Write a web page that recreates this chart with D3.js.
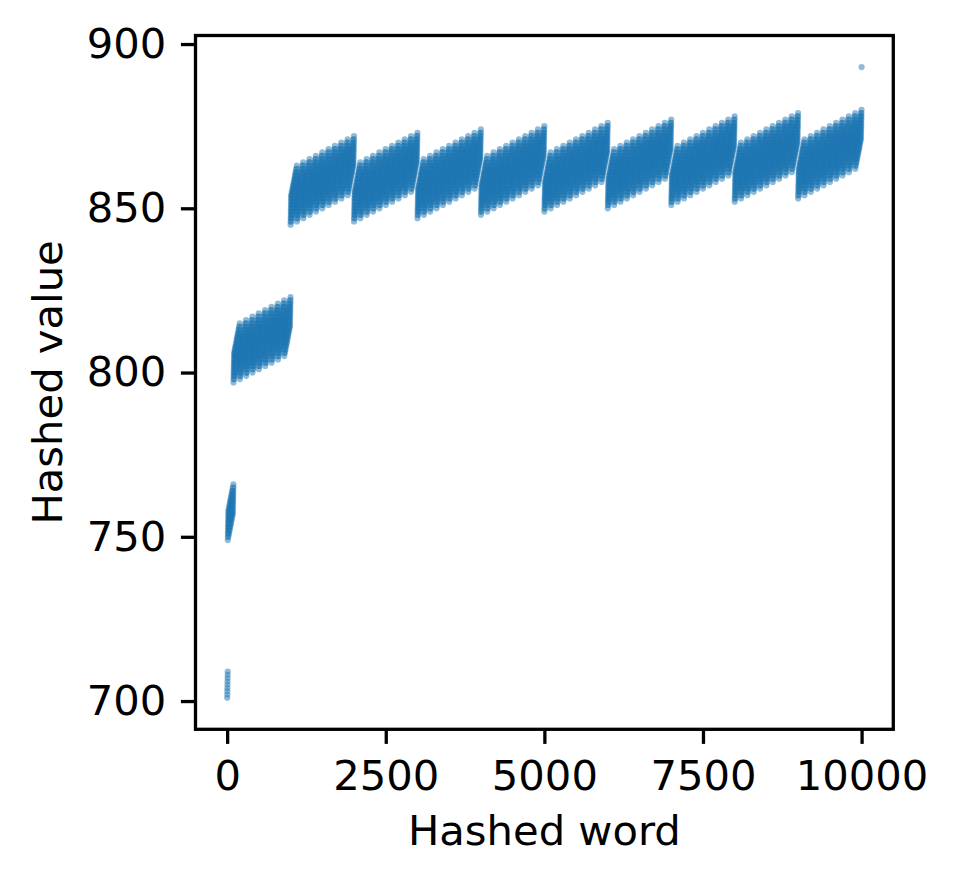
<!DOCTYPE html>
<html>
<head>
<meta charset="utf-8">
<script src="https://d3js.org/d3.v7.min.js"></script>
<style>
  body { margin: 0; background: #fff; }
  svg { display: block; font-family: "DejaVu Sans", sans-serif; }
</style>
</head>
<body>
<script>
// words 1..10000 are hashed as base + sum of their character codes
var firstWord = 1;
var lastWord = 10000;
var hashBase = 652;
var xTicks = [0, 2500, 5000, 7500, 10000];
var yTicks = [700, 750, 800, 850, 900];

var words = d3.range(firstWord, lastWord + 1).map(String);
var hashedValues = words.map(function (w) {
    return hashBase + d3.sum(w.split(""), function (c) { return c.charCodeAt(0); });
});
var points = words.map(function (w, i) { return {x: +w, y: hashedValues[i]}; });

var W = 957, H = 885;
// plot box (note: "top" is reserved on window, so use a prefix)
var boxL = 195.5, boxR = 893.3, boxT = 35.5, boxB = 729.3;
var fs = 41.7;

// matplotlib-style 5% padding
var xExt = d3.extent(points, function (d) { return d.x; });
var yExt = d3.extent(points, function (d) { return d.y; });
var xPad = (xExt[1] - xExt[0]) * 0.05, yPad = (yExt[1] - yExt[0]) * 0.05;

var x = d3.scaleLinear().domain([xExt[0] - xPad, xExt[1] + xPad]).range([boxL, boxR]);
var y = d3.scaleLinear().domain([yExt[0] - yPad, yExt[1] + yPad]).range([boxB, boxT]);

var svg = d3.select("body").append("svg")
    .attr("width", W)
    .attr("height", H);

svg.append("rect").attr("width", W).attr("height", H).attr("fill", "#fff");

// Scatter points
svg.append("g")
    .selectAll("circle")
    .data(points)
    .enter().append("circle")
    .attr("cx", function (d) { return x(d.x); })
    .attr("cy", function (d) { return y(d.y); })
    .attr("r", 3.1)
    .attr("fill", "#1f77b4")
    .attr("fill-opacity", 0.5);

// Axes
var xAxis = d3.axisBottom(x).tickValues(xTicks).tickSize(14.6).tickPadding(14.6).tickFormat(d3.format("d"));
var yAxis = d3.axisLeft(y).tickValues(yTicks).tickSize(14.6).tickPadding(14.6).tickFormat(d3.format("d"));

var gx = svg.append("g").attr("transform", "translate(0," + boxB + ")").call(xAxis);
var gy = svg.append("g").attr("transform", "translate(" + boxL + ",0)").call(yAxis);

[gx, gy].forEach(function (g) {
    g.select(".domain").remove();
    g.selectAll(".tick line").attr("stroke", "#000").attr("stroke-width", 3.3);
    g.selectAll(".tick text")
        .attr("fill", "#000")
        .style("font-family", "DejaVu Sans")
        .style("font-size", fs + "px");
});
gx.selectAll(".tick text").attr("dy", "0.76em");

// Frame
svg.append("rect")
    .attr("x", boxL).attr("y", boxT)
    .attr("width", boxR - boxL).attr("height", boxB - boxT)
    .attr("fill", "none")
    .attr("stroke", "#000")
    .attr("stroke-width", 3.3);

// Labels
svg.append("text")
    .attr("x", (boxL + boxR) / 2)
    .attr("y", 845)
    .attr("text-anchor", "middle")
    .style("font-size", fs + "px")
    .text("Hashed word");

svg.append("text")
    .attr("transform", "translate(62," + ((boxT + boxB) / 2) + ") rotate(-90)")
    .attr("text-anchor", "middle")
    .style("font-size", fs + "px")
    .text("Hashed value");
</script>
</body>
</html>
